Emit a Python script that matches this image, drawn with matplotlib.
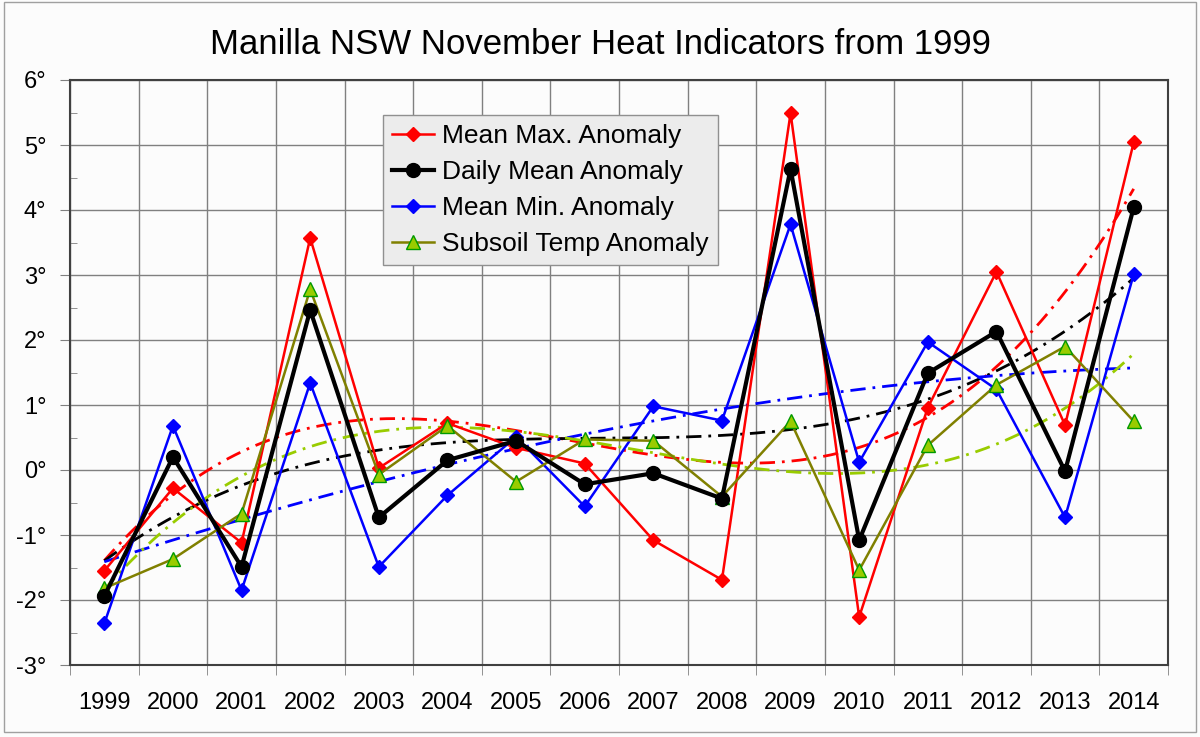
import numpy as np
import matplotlib
matplotlib.use('Agg')
import matplotlib.pyplot as plt
from matplotlib.patches import Rectangle

plt.rcParams['font.family'] = ['Liberation Sans', 'DejaVu Sans']

years = ['1999', '2000', '2001', '2002', '2003', '2004', '2005', '2006',
         '2007', '2008', '2009', '2010', '2011', '2012', '2013', '2014']

mean_max = [-1.55, -0.28, -1.12, 3.57, 0.03, 0.72, 0.34, 0.10,
            -1.08, -1.69, 5.49, -2.26, 0.96, 3.05, 0.69, 5.04]
daily_mean = [-1.94, 0.20, -1.49, 2.46, -0.73, 0.15, 0.45, -0.22,
              -0.05, -0.44, 4.63, -1.08, 1.49, 2.13, -0.02, 4.04]
mean_min = [-2.36, 0.68, -1.85, 1.34, -1.49, -0.39, 0.51, -0.56,
            0.98, 0.76, 3.78, 0.12, 1.97, 1.24, -0.73, 3.01]
subsoil = [-1.82, -1.37, -0.67, 2.78, -0.07, 0.68, -0.18, 0.47,
           0.45, -0.41, 0.75, -1.54, 0.38, 1.31, 1.90, 0.75]

x = np.arange(len(years))
xs = np.linspace(0, len(years) - 1, 300)

fig = plt.figure(figsize=(12, 7.37), dpi=100, facecolor='#fcfcfc')
fig.patches.append(Rectangle((0.003, 0.007), 0.994, 0.99, transform=fig.transFigure,
                             fill=False, edgecolor='#a0a0a0', lw=1))
ax = fig.add_axes([70 / 1200, 1 - 665 / 737, 1098 / 1200, 585 / 737])
ax.set_facecolor('#fcfcfc')

# cubic trend lines like the spreadsheet ones
def trend(y, color):
    p = np.polyfit(x, y, 3)
    ax.plot(xs, np.polyval(p, xs), color=color, lw=2,
            linestyle=(0, (5.5, 2.5, 1, 2.5)), zorder=4)

ax.plot(x, mean_max, color='red', lw=1.8, marker='D', ms=7, label='Mean Max. Anomaly', zorder=5)
ax.plot(x, daily_mean, color='black', lw=3, marker='o', ms=10, label='Daily Mean Anomaly', zorder=6)
ax.plot(x, mean_min, color='blue', lw=1.8, marker='D', ms=7, label='Mean Min. Anomaly', zorder=5)
ax.plot(x, subsoil, color='#808000', lw=1.8, marker='^', ms=10, mfc='#99cc00', mec='#009900',
        label='Subsoil Temp Anomaly', zorder=5)

trend(mean_max, 'red')
trend(daily_mean, 'black')
trend(mean_min, 'blue')
trend(subsoil, '#99cc00')

ax.set_xlim(-0.5, len(years) - 0.5)
ax.set_ylim(-3, 6)
ax.set_xticks(x)
ax.set_xticklabels(years)
ax.set_xticks(np.arange(-0.5, len(years), 1), minor=True)
ax.tick_params(axis='x', which='major', length=0, pad=19.5, labelsize=17)
ax.tick_params(axis='x', which='minor', length=7, direction='out', color='#808080')
ax.set_yticks(np.arange(-3, 7, 1))
ax.set_yticklabels([f'{v}°' for v in range(-3, 7)])
ax.set_yticks(np.arange(-3, 6.5, 0.5), minor=True)
ax.tick_params(axis='y', which='major', length=7, direction='out', labelsize=17, pad=10, color='#808080')
ax.tick_params(axis='y', which='minor', length=5, direction='in', color='#808080')
ax.grid(True, which='major', axis='y', color='#808080', lw=1)
ax.grid(True, which='minor', axis='x', color='#808080', lw=1)
for s in ax.spines.values():
    s.set_color('#404040')
    s.set_linewidth(1.5)

fig.text(0.5, 1 - 45 / 737, 'Manilla NSW November Heat Indicators from 1999',
         fontsize=25, ha='center', va='center')

leg = ax.legend(loc='upper left', bbox_to_anchor=(0.285, 0.94), fontsize=19, frameon=True,
                fancybox=False, handlelength=1.6, handletextpad=0.3, borderpad=0.35,
                labelspacing=0.45, borderaxespad=0)
leg.get_frame().set_facecolor('#ececec')
leg.get_frame().set_edgecolor('#909090')
leg.get_frame().set_alpha(1)

fig.savefig('out.png', dpi=100, facecolor=fig.get_facecolor())
